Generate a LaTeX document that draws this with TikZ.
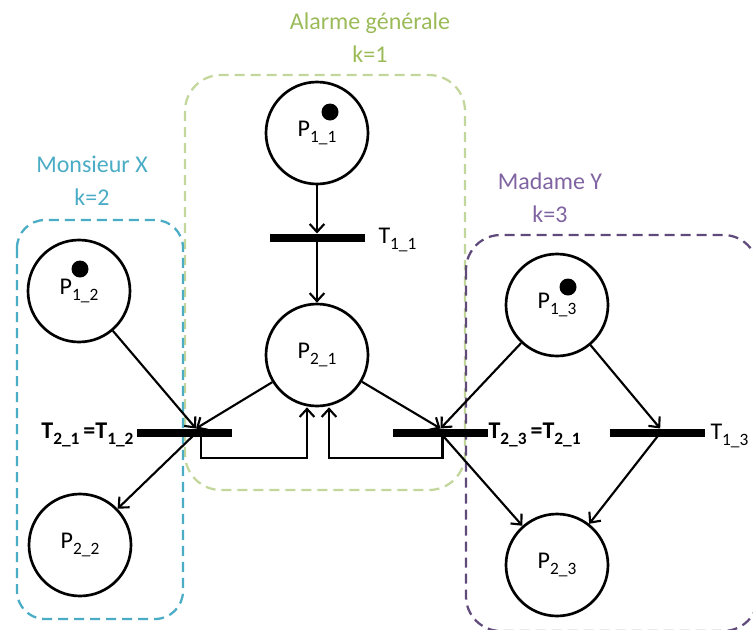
\documentclass[tikz,border=0pt]{standalone}
\usepackage{fontspec}
\setmainfont{Carlito}
\usetikzlibrary{arrows.meta}

\definecolor{alarmtext}{RGB}{155,187,89}
\definecolor{alarmline}{RGB}{195,214,155}
\definecolor{xline}{RGB}{75,172,198}
\definecolor{ytext}{RGB}{128,100,162}
\definecolor{yline}{RGB}{96,74,123}

\newcommand{\idx}[1]{\raisebox{-5pt}{\fontsize{13}{13}\selectfont #1}}

\tikzset{every picture/.style={line width=0.75pt}}
\tikzset{
  place/.style={circle,draw,line width=2pt,minimum size=76.5pt,inner sep=0pt,font=\fontsize{18}{21}\selectfont},
  token/.style={circle,fill,minimum size=12.75pt,inner sep=0pt},
  trans/.style={fill,inner sep=0pt,minimum width=71.25pt,minimum height=6pt},
  arc/.style={line width=1.6pt,-{Straight Barb[length=6pt,width=11pt]}},
  zone/.style={dash pattern=on 7.5pt off 4.5pt,line width=1.7pt,rounded corners=27pt},
  title/.style={align=center,font=\fontsize{18}{24.75}\selectfont},
  tlabel/.style={inner sep=0pt,font=\fontsize{18}{21}\selectfont},
}

\begin{document}
\begin{tikzpicture}[x=0.75pt,y=0.75pt,yscale=-1,xscale=1]
    \clip (0,0) rectangle (753,629);
    % Zones
    \draw [zone,alarmline] (185,75) rectangle (465,490);
    \draw [zone,xline,rounded corners=21pt] (17,220) rectangle (183,619);
    \draw [zone,yline,rounded corners=26pt] (466,235) rectangle (758,631);
    % Text Node
    \node [title,text=alarmtext] (tAlarme) at (370,38) {Alarme générale\\k=1};
    \node [title,text=xline] (tMonsieur) at (92,181) {Monsieur X\\k=2};
    \node [title,text=ytext] (tMadame) at (550,198) {Madame Y\\k=3};
    % Places
    \node [place] (p11) at (317,133) {P\idx{1\_1}};
    \node [place] (p21) at (317,355) {P\idx{2\_1}};
    \node [place] (p12) at (79,291) {P\idx{1\_2}};
    \node [place] (p22) at (80,545) {P\idx{2\_2}};
    \node [place] (p13) at (557,305) {P\idx{1\_3}};
    \node [place] (p23) at (557,565) {P\idx{2\_3}};
    % Tokens
    \node [token] (m11) at (330,112) {};
    \node [token] (m12) at (80,269) {};
    \node [token] (m13) at (568,287) {};
    % Transitions
    \node [trans] (t11) at (317,238) {};
    \node [trans] (t21) at (184.5,433) {};
    \node [trans] (t23) at (440.5,433) {};
    \node [trans] (t13) at (657.5,433) {};
    % Transition labels
    \node [tlabel,anchor=base west] (l11) at (378,243) {T\idx{1\_1}};
    \node [tlabel,anchor=base east,font={\fontsize{18}{21}\selectfont\bfseries}] (l21) at (134,438) {T\idx{2\_1}\,=T\idx{1\_2}};
    \node [tlabel,anchor=base west,font={\fontsize{18}{21}\selectfont\bfseries}] (l23) at (488,438) {T\idx{2\_3}\,=T\idx{2\_1}};
    \node [tlabel,anchor=base west] (l13) at (710,439) {T\idx{1\_3}};
    % Connection
    \draw [arc] (p11) -- (t11.north);
    \draw [arc] (t11.center) -- (p21);
    % Connection
    \draw [arc] (p12) -- ([xshift=8.6pt]t21.north);
    \draw [arc] (p21) -- ([xshift=8.6pt]t21.north);
    \draw [arc] ([xshift=8.6pt]t21.center) -- (p22);
    \draw [arc] ([xshift=12.4pt]t21.center) -- ++(0,25) -| ([xshift=-7.5pt]p21.south);
    % Connection
    \draw [arc] (p21) -- (t23.north);
    \draw [arc] (p13) -- (t23.north);
    \draw [arc] (t23.center) -- (p23);
    \draw [arc] ([xshift=1.5pt]t23.center) -- ++(0,25) -| ([xshift=9pt]p21.south);
    % Connection
    \draw [arc] (p13) -- ([xshift=2pt]t13.north);
    \draw [arc] ([xshift=2pt]t13.center) -- (p23);

\end{tikzpicture}
\end{document}
